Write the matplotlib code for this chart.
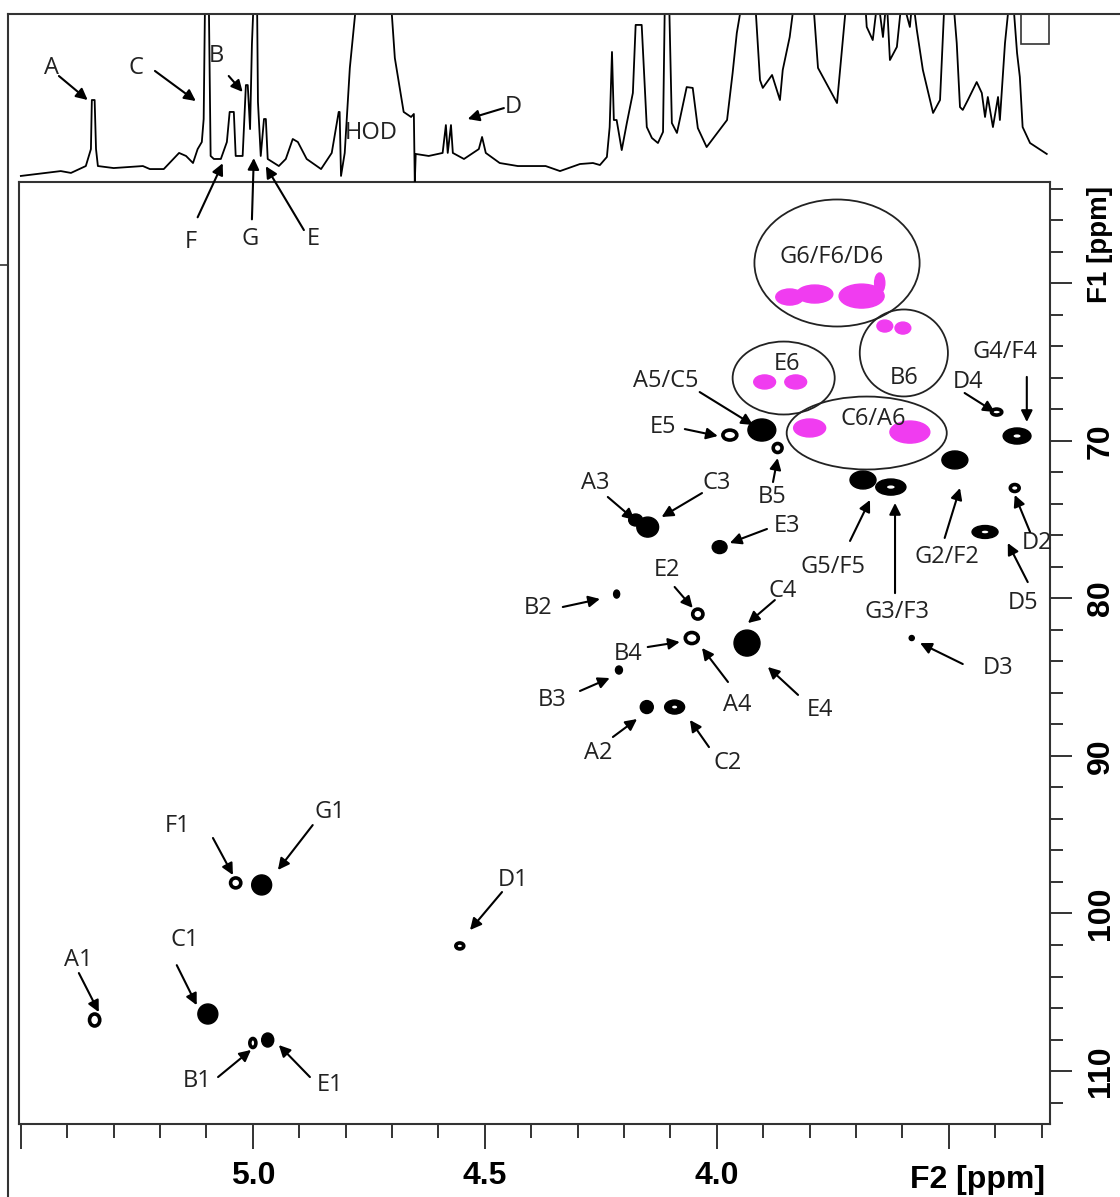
import matplotlib.pyplot as plt
from matplotlib.patches import Ellipse, Rectangle
from matplotlib.lines import Line2D
import numpy as np

# 1H trace on top (ppm, relative intensity; >100 runs off the panel)
trace_ppm = [5.50, 5.446, 5.414, 5.392, 5.360, 5.349, 5.347, 5.341, 5.338, 5.334,
             5.300, 5.237, 5.222, 5.192, 5.159, 5.144, 5.129, 5.119, 5.110, 5.106,
             5.103, 5.095, 5.091, 5.084, 5.069, 5.056, 5.050, 5.041, 5.037, 5.022,
             5.015, 5.011, 5.006, 5.002, 4.998, 4.991, 4.989, 4.983, 4.976, 4.972,
             4.968, 4.944, 4.929, 4.914, 4.903, 4.884, 4.853, 4.830, 4.815, 4.813,
             4.810, 4.802, 4.791, 4.776, 4.703, 4.694, 4.675, 4.659, 4.653, 4.651,
             4.649, 4.621, 4.591, 4.584, 4.580, 4.573, 4.569, 4.545, 4.513, 4.506,
             4.498, 4.468, 4.429, 4.369, 4.338,
             4.295, 4.267, 4.252, 4.237, 4.231, 4.226, 4.222, 4.216, 4.205, 4.194,
             4.181, 4.175, 4.162, 4.151, 4.140, 4.127, 4.116, 4.112, 4.103, 4.097,
             4.086, 4.065, 4.052, 4.041, 4.022, 3.978, 3.966, 3.957, 3.944, 3.918,
             3.907, 3.901, 3.881, 3.864, 3.858, 3.843, 3.832, 3.793, 3.782, 3.741,
             3.720, 3.681, 3.677, 3.664, 3.653, 3.642, 3.634, 3.627, 3.612, 3.601,
             3.584, 3.578, 3.569, 3.556, 3.534, 3.519, 3.509, 3.491, 3.483, 3.476,
             3.470, 3.459, 3.440, 3.429, 3.422, 3.416, 3.405, 3.394, 3.390, 3.379,
             3.369, 3.362, 3.353, 3.347, 3.341, 3.325, 3.289]
trace_int = [3.6, 5.4, 6.5, 5.4, 9.5, 19.6, 48.8, 48.8, 19.6, 9.5,
             8.3, 9.5, 7.7, 7.7, 17.3, 15.5, 11.3, 19.6, 23.8, 37.5,
             110, 110, 15.5, 13.7, 13.7, 23.8, 41.7, 41.7, 15.5, 15.5,
             57.7, 57.7, 31.5, 82.1, 110, 110, 47.6, 15.5, 37.5, 37.5,
             13.7, 9.5, 13.7, 25.6, 23.8, 13.7, 7.7, 17.3, 41.7, 41.7,
             3.6, 17.3, 67.9, 110, 110, 73.8, 41.7, 38.7, 40.5, -0.6,
             16.7, 15.5, 17.3, 33.9, 17.3, 33.9, 17.3, 13.7, 19.6, 26.8,
             17.3, 11.3, 9.5, 9.5, 6.5,
             10.7, 11.3, 10.1, 14.9, 32.7, 77.4, 36.9, 36.9, 19.0, 35.1,
             53.0, 93.5, 93.5, 32.7, 26.2, 23.2, 29.8, 110, 110, 35.1,
             29.2, 56.5, 56.0, 32.1, 20.8, 36.9, 64.9, 88.7, 110, 110,
             60.7, 56.0, 63.7, 48.8, 66.7, 86.3, 110, 110, 67.9, 47.0,
             110, 110, 92.3, 84.5, 110, 86.3, 110, 72.6, 80.4, 110,
             92.3, 110, 90.5, 66.7, 41.1, 48.8, 110, 110, 82.7, 44.6,
             42.9, 48.8, 59.5, 53.0, 38.7, 50.6, 32.7, 50.6, 36.9, 82.7,
             110, 110, 76.8, 62.5, 32.7, 23.2, 16.7]

# HSQC cross peaks (black): F2 ppm, F1 ppm, widths in ppm, type
peak_f2 = [5.341, 5.097, 5.037, 4.981, 5.000, 4.968, 4.554, 4.175, 4.149, 3.994,
           4.216, 4.041, 4.054, 3.935, 4.211, 4.151, 4.091, 3.685, 3.625, 3.869,
           3.903, 3.972, 3.353, 3.397, 3.487, 3.358, 3.422, 3.580]
peak_f1 = [106.76, 106.38, 98.06, 98.19, 108.22, 108.03, 102.06, 75.03, 75.48, 76.75,
           79.73, 81.00, 82.52, 82.84, 84.55, 86.90, 86.90, 72.49, 72.94, 70.46,
           69.32, 69.64, 69.70, 68.18, 71.22, 73.00, 75.79, 82.52]
peak_w = [0.022, 0.043, 0.022, 0.043, 0.013, 0.026, 0.017, 0.030, 0.047, 0.032,
          0.013, 0.022, 0.028, 0.056, 0.015, 0.028, 0.043, 0.056, 0.065, 0.019,
          0.060, 0.030, 0.060, 0.022, 0.056, 0.019, 0.056, 0.011]
peak_h = [0.76, 1.27, 0.63, 1.27, 0.57, 0.89, 0.38, 0.76, 1.27, 0.82,
          0.51, 0.63, 0.70, 1.65, 0.51, 0.82, 0.89, 1.14, 1.02, 0.57,
          1.40, 0.63, 1.02, 0.38, 1.14, 0.44, 0.82, 0.32]
peak_kind = ['o', 'f', 'o', 'f', 'o', 'f', 'o', 'f', 'f', 'f',
             'f', 'o', 'o', 'f', 'f', 'f', 'd', 'f', 'd', 'o',
             'f', 'o', 'd', 'o', 'f', 'o', 'd', 'f']

# C6 cross peaks (magenta)
pink_f2 = [3.843, 3.789, 3.688, 3.649, 3.638, 3.599, 3.897, 3.830, 3.800, 3.584]
pink_f1 = [60.88, 60.69, 60.82, 59.99, 62.72, 62.85, 66.27, 66.27, 69.19, 69.45]
pink_w = [0.060, 0.078, 0.097, 0.022, 0.034, 0.034, 0.047, 0.047, 0.069, 0.086]
pink_h = [1.02, 1.14, 1.52, 1.27, 0.76, 0.76, 0.89, 0.89, 1.14, 1.40]

# grouping ellipses: label, centre, width (ppm), height (ppm), label position
groups = [('G6/F6/D6', (3.741, 58.72), 0.356, 8.06, (3.752, 58.36)),
          ('B6', (3.597, 64.43), 0.190, 5.52, (3.597, 66.02)),
          ('E6', (3.856, 66.02), 0.220, 4.63, (3.849, 65.13)),
          ('C6/A6', (3.677, 69.51), 0.345, 4.63, (3.664, 68.62))]

# assignments in the 2D map: label, text, arrow tail, arrow head
labels_2d = [
    ('A1', (5.377, 102.95), (5.375, 103.78), (5.332, 106.26)),
    ('C1', (5.147, 101.69), (5.164, 103.28), (5.121, 105.82)),
    ('F1', (5.162, 94.45), (5.086, 95.21), (5.043, 97.56)),
    ('G1', (4.834, 93.56), (4.871, 94.39), (4.946, 97.24)),
    ('B1', (5.119, 110.63), (5.075, 110.38), (5.004, 108.66)),
    ('E1', (4.834, 110.88), (4.877, 110.38), (4.944, 108.35)),
    ('D1', (4.440, 97.88), (4.463, 98.64), (4.532, 101.05)),
    ('A3', (4.261, 72.68), (4.235, 73.57), (4.177, 75.03)),
    ('C3', (4.000, 72.68), (4.032, 73.32), (4.119, 74.84)),
    ('E3', (3.849, 75.41), (3.892, 75.60), (3.972, 76.49)),
    ('E2', (4.108, 78.20), (4.091, 79.28), (4.052, 80.61)),
    ('B2', (4.386, 80.61), (4.332, 80.55), (4.252, 80.04)),
    ('B4', (4.192, 83.53), (4.149, 83.09), (4.080, 82.77)),
    ('A4', (3.957, 86.77), (3.976, 85.31), (4.032, 83.15)),
    ('C4', (3.858, 79.54), (3.875, 80.11), (3.933, 81.57)),
    ('E4', (3.778, 87.09), (3.825, 86.13), (3.890, 84.36)),
    ('B3', (4.356, 86.45), (4.295, 85.88), (4.231, 85.06)),
    ('A2', (4.256, 89.82), (4.224, 88.80), (4.172, 87.66)),
    ('C2', (3.976, 90.45), (4.017, 89.44), (4.058, 87.72)),
    ('G5/F5', (3.750, 78.01), (3.713, 76.36), (3.670, 73.76)),
    ('G3/F3', (3.612, 80.87), (3.616, 79.67), (3.616, 73.95)),
    ('B5', (3.881, 73.57), (3.879, 72.62), (3.869, 71.10)),
    ('A5/C5', (4.110, 66.21), (4.037, 66.91), (3.922, 69.00)),
    ('E5', (4.116, 69.13), (4.069, 69.26), (3.998, 69.70)),
    ('D4', (3.459, 66.29), (3.466, 66.97), (3.401, 68.18)),
    ('G4/F4', (3.379, 64.37), (3.332, 65.95), (3.332, 68.81)),
    ('G2/F2', (3.504, 77.38), (3.509, 76.17), (3.476, 73.00)),
    ('D2', (3.310, 76.49), (3.325, 75.79), (3.358, 73.44)),
    ('D5', (3.341, 80.30), (3.330, 78.97), (3.373, 76.49)),
    ('D3', (3.394, 84.43), (3.470, 84.17), (3.562, 82.84)),
    # anomeric protons of the 1D trace, written below it
    ('F', (5.134, 57.39), (5.119, 55.82), (5.065, 52.39)),
    ('G', (5.006, 57.22), (5.002, 55.95), (4.998, 52.06)),
    ('E', (4.869, 57.22), (4.890, 56.63), (4.972, 52.58)),
]

# labels inside the 1D panel: label, text, arrow tail, arrow head (ppm, intensity)
labels_1d = [
    ('A', (5.433, 67.9), (5.418, 63.1), (5.356, 48.8)),
    ('C', (5.252, 67.9), (5.211, 66.1), (5.123, 48.2)),
    ('B', (5.078, 75.0), (5.052, 63.1), (5.022, 53.6)),
    ('D', (4.438, 44.6), (4.459, 44.0), (4.537, 37.5)),
]

xticks_major = [5.5, 5.0, 4.5, 4.0, 3.5]
xtick_labels = ['', '5.0', '4.5', '4.0', '']
yticks_major = [60, 70, 80, 90, 100, 110]
ytick_labels = ['', '70', '80', '90', '100', '110']

W, H = 1120, 1197
fig = plt.figure(figsize=(W / 100, H / 100), dpi=100)
xlim = (5.504, 3.282)
ylim = (113.36, 53.58)
lab_font = dict(family=['Open Sans', 'DejaVu Sans'], fontsize=17, color='#222222')
tick_font = dict(family=['Liberation Sans', 'DejaVu Sans'], fontsize=23, fontweight='bold')
arrow = dict(arrowstyle='-|>', color='black', lw=1.5, mutation_scale=17,
             shrinkA=0, shrinkB=0)

ax = fig.add_axes([19 / W, 1 - 1124 / H, 1031 / W, 942 / H])
axt = fig.add_axes([19 / W, 1 - 182 / H, 1031 / W, 168 / H])

# ---- top 1D spectrum
axt.plot(trace_ppm, trace_int, color='black', lw=1.3)
axt.set_xlim(*xlim)
axt.set_ylim(0, 100)
axt.axis('off')
axt.text(4.744, 29.2, 'HOD', ha='center', va='center', **lab_font)
for name, txy, tail, head in labels_1d:
    axt.text(txy[0], txy[1], name, ha='center', va='center', **lab_font)
    axt.annotate('', xy=head, xytext=tail, annotation_clip=False, arrowprops=arrow)

# ---- 2D map
for x, y, w, h, k in zip(peak_f2, peak_f1, peak_w, peak_h, peak_kind):
    if k == 'o':
        ax.add_patch(Ellipse((x, y), w, h, fc='white', ec='black', lw=2.6))
    else:
        ax.add_patch(Ellipse((x, y), w, h, fc='black', ec='black', lw=1))
        if k == 'd':
            ax.add_patch(Ellipse((x, y), w * 0.25, h * 0.2, fc='white', ec='none'))

for x, y, w, h in zip(pink_f2, pink_f1, pink_w, pink_h):
    ax.add_patch(Ellipse((x, y), w, h, fc='#f03cf0', ec='#f03cf0', lw=1))

for name, c, w, h, txy in groups:
    ax.add_patch(Ellipse(c, w, h, fc='none', ec='#222222', lw=1.3))
    ax.text(txy[0], txy[1], name, ha='center', va='center', **lab_font)

for name, txy, tail, head in labels_2d:
    ax.text(txy[0], txy[1], name, ha='center', va='center', clip_on=False, **lab_font)
    ax.annotate('', xy=head, xytext=tail, annotation_clip=False, arrowprops=arrow)

ax.set_xlim(*xlim)
ax.set_ylim(*ylim)
for s in ax.spines.values():
    s.set_color('#333333')
    s.set_linewidth(1.5)

ax.set_xticks(xticks_major)
ax.set_xticklabels(xtick_labels, **tick_font)
ax.set_xticks(np.round(np.arange(3.3, 5.45, 0.1), 1), minor=True)
ax.tick_params(axis='x', which='major', direction='out', length=18, width=1.4,
               color='#333333', pad=9)
ax.tick_params(axis='x', which='minor', direction='out', length=10, width=1.4,
               color='#333333')

ax.yaxis.tick_right()
ax.set_yticks(yticks_major)
ax.set_yticklabels(ytick_labels, rotation=90, va='center', **tick_font)
ax.set_yticks(np.arange(54, 113, 2), minor=True)
ax.tick_params(axis='y', which='major', direction='out', length=16, width=1.4,
               color='#333333', pad=10)
ax.tick_params(axis='y', which='minor', direction='out', length=9, width=1.4,
               color='#333333')

fig.text(1045 / W, 1 - 1188 / H, 'F2 [ppm]', ha='right', va='baseline', **tick_font)
fig.text(1100 / W, 1 - 186 / H, 'F1 [ppm]', ha='center', va='top', rotation=90,
         family=['Liberation Sans', 'DejaVu Sans'], fontsize=20, fontweight='bold')

# outer frame of the figure
fig.add_artist(Line2D([8 / W, 1], [1 - 14 / H, 1 - 14 / H], color='#333333', lw=1.5))
fig.add_artist(Line2D([8 / W, 8 / W], [1 - 14 / H, 0], color='#333333', lw=1.5))
fig.add_artist(Line2D([0, 8 / W], [1 - 265 / H, 1 - 265 / H], color='#333333', lw=1.2))
fig.add_artist(Rectangle((1021 / W, 1 - 44 / H), 28 / W, 30 / H, fill=False,
                         ec='#333333', lw=1.2))

fig.savefig('out.png', dpi=100, facecolor='white')
